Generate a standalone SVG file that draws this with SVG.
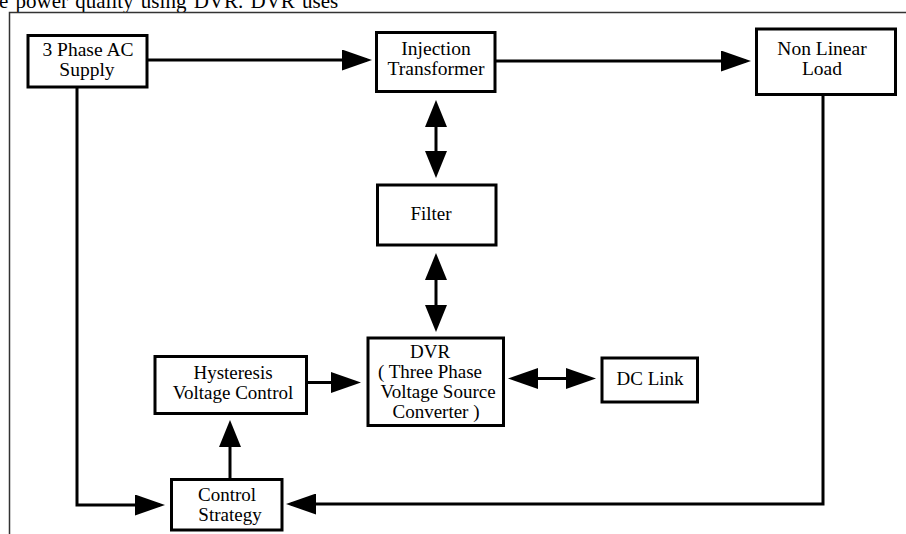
<svg xmlns="http://www.w3.org/2000/svg" width="906" height="534" viewBox="0 0 906 534">
<style>
  .box { fill: #fff; stroke: #000; stroke-width: 3; }
  .lbl { font-family: "Liberation Serif", "Times New Roman", serif; font-size: 19px; fill: #000; text-anchor: middle; }
  .top { font-size: 19.5px; }
  .con { fill: none; stroke: #000; stroke-width: 3; }
  .frame { fill: none; stroke: #333; stroke-width: 1.5; }
  .hdr { font-family: "Liberation Serif", "Times New Roman", serif; font-size: 21px; fill: #000; word-spacing: 2px; }
</style>
<defs>
  <marker id="ah" markerUnits="userSpaceOnUse" markerWidth="30" markerHeight="21" refX="25" refY="10.5" orient="auto-start-reverse" viewBox="0 0 30 21">
    <path d="M0,0 L30,10.5 L0,21 z" fill="#000"/>
  </marker>
  <marker id="av" markerUnits="userSpaceOnUse" markerWidth="27" markerHeight="22" refX="22" refY="11" orient="auto-start-reverse" viewBox="0 0 27 22">
    <path d="M0,0 L27,11 L0,22 z" fill="#000"/>
  </marker>
</defs>
<rect width="906" height="534" fill="#fff"/>
<text class="hdr" x="-1" y="7.5">e power quality using DVR. DVR uses</text>
<path class="frame" d="M9.5,534 V12.5 H906"/>

<g id="connectors">
  <line class="con" x1="148" y1="60" x2="367" y2="60" marker-end="url(#ah)"/>
  <line class="con" x1="495" y1="61" x2="746" y2="61" marker-end="url(#ah)"/>
  <line class="con" x1="436" y1="105" x2="436" y2="173" marker-start="url(#av)" marker-end="url(#av)"/>
  <line class="con" x1="436" y1="258" x2="436" y2="327" marker-start="url(#av)" marker-end="url(#av)"/>
  <line class="con" x1="306" y1="382.5" x2="356" y2="382.5" marker-end="url(#ah)"/>
  <line class="con" x1="513" y1="378.5" x2="591" y2="378.5" marker-start="url(#ah)" marker-end="url(#ah)"/>
  <line class="con" x1="230" y1="479" x2="230" y2="425" marker-end="url(#av)"/>
  <path class="con" d="M77,88 V505 H160" marker-end="url(#ah)"/>
  <path class="con" d="M823,95 V504 H291" marker-end="url(#ah)"/>
</g>

<g id="supply">
  <rect class="box" x="28" y="35.5" width="119" height="51.5"/>
  <text class="lbl top" x="88" y="55.5">3 Phase AC</text>
  <text class="lbl top" x="87" y="75.5">Supply</text>
</g>
<g id="injection">
  <rect class="box" x="376.5" y="32.5" width="118.5" height="59"/>
  <text class="lbl top" x="436" y="54.5">Injection</text>
  <text class="lbl top" x="436" y="75">Transformer</text>
</g>
<g id="load">
  <rect class="box" x="756.5" y="29" width="139" height="65.5"/>
  <text class="lbl top" x="822" y="55">Non Linear</text>
  <text class="lbl top" x="822" y="74.5">Load</text>
</g>
<g id="filter">
  <rect class="box" x="377.5" y="185" width="118.5" height="60"/>
  <text class="lbl" x="431" y="219.5">Filter</text>
</g>
<g id="dvr">
  <rect class="box" x="368" y="338" width="135.5" height="87.5"/>
  <text class="lbl" x="430" y="358">DVR</text>
  <text class="lbl" x="430" y="378">( Three Phase</text>
  <text class="lbl" x="438" y="398">Voltage Source</text>
  <text class="lbl" x="436" y="418">Converter )</text>
</g>
<g id="hysteresis">
  <rect class="box" x="155" y="356.5" width="151.5" height="57"/>
  <text class="lbl" x="233" y="378.5">Hysteresis</text>
  <text class="lbl" x="233" y="398.5">Voltage Control</text>
</g>
<g id="dclink">
  <rect class="box" x="602" y="358" width="95.5" height="44"/>
  <text class="lbl" x="650" y="384.5">DC Link</text>
</g>
<g id="control">
  <rect class="box" x="171.5" y="479.5" width="110.5" height="50.5"/>
  <text class="lbl" x="227" y="500.5">Control</text>
  <text class="lbl" x="230" y="520.5">Strategy</text>
</g>
</svg>
